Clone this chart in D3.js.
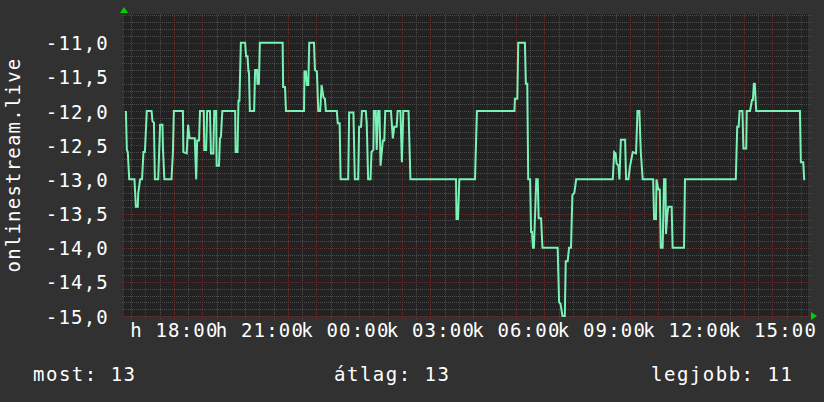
<!DOCTYPE html>
<html><head><meta charset="utf-8">
<script src="https://cdn.jsdelivr.net/npm/d3@7"></script>
<style>body{margin:0;background:#313131;} svg{display:block}</style>
</head><body>
<svg id="c" width="824" height="402"></svg>
<script>
// ---------- data ----------
const startTime = new Date(2024, 0, 15, 16, 15);   // hétfő 16:15
const endTime   = new Date(2024, 0, 16, 16, 15);   // kedd 16:15
const minutesFromStart = [
  4,6,8,11,22,25,29,30,34,38,41,44,48,58,60,63,65,72,76,81,82,85,100,103,105,124,125,132,135,138,149,152,154,158,160,168,169,173,175,181,183,188,190,194,195,200,202,204,207,234,235,239,241,243,246,255,257,260,262,263,265,274,276,280,281,284,286,
  334,335,339,341,379,380,383,385,388,390,400,402,406,407,409,413,416,420,423,425,448,450,454,456,472,474,483,486,493,495,499,501,509,511,514,519,521,525,526,530,532,535,538,540,545,548,550,562,566,569,574,576,582,585,588,599,603,
  699,700,703,706,739,743,822,823,828,830,844,846,849,851,855,857,859,861,863,865,868,871,873,878,881,913,916,919,923,928,930,934,937,941,944,948,952,
  1029,1032,1035,1037,1041,1043,1046,1055,1057,1062,1065,1071,1078,1081,1085,1088,1092,1114,1116,1120,1121,1125,1128,1130,1134,1137,1140,1141,1144,1146,1153,1155,1179,1181,
  1288,1291,1294,1296,1302,1304,1310,1311,1318,1322,1324,1326,1328,1331,1423,1425,1430,1432,1434
];
const values = [
  -12.0,-12.57,-12.6,-13.0,-13.0,-13.4,-13.4,-13.2,-13.0,-13.0,-12.6,-12.6,-12.0,-12.0,-12.15,-12.17,-13.0,-13.0,-12.2,-12.2,-12.55,-13.0,-13.0,-12.6,-12.0,-12.0,-12.6,-12.62,-12.2,-12.4,-12.4,-13.0,-12.43,-12.43,-12.0,-12.0,-12.57,-12.57,-12.0,-12.0,-12.62,-12.62,-12.0,-12.0,-12.8,-12.8,-12.4,-12.38,-12.0,-12.0,-12.6,-12.6,-11.85,-11.85,-11.0,-11.0,-11.2,-11.2,-11.42,-11.42,-12.0,-12.0,-11.4,-11.4,-11.6,-11.6,-11.0,
  -11.0,-11.65,-11.65,-12.0,-12.0,-11.42,-11.42,-11.62,-11.62,-11.0,-11.0,-11.4,-11.42,-11.6,-12.0,-12.0,-11.62,-11.8,-11.82,-12.0,-12.0,-12.18,-12.18,-13.0,-13.0,-12.02,-12.02,-13.0,-13.0,-12.23,-12.23,-12.0,-12.0,-12.18,-13.0,-13.0,-12.6,-12.57,-12.0,-12.0,-12.57,-12.0,-12.0,-12.8,-12.43,-12.43,-12.0,-12.0,-12.4,-12.23,-12.23,-12.0,-12.0,-12.75,-12.0,-12.0,-13.0,
  -13.0,-13.58,-13.58,-13.0,-13.0,-12.0,-12.0,-11.82,-11.82,-11.0,-11.0,-11.6,-11.6,-13.0,-13.0,-13.77,-13.77,-14.0,-14.0,-13.6,-13.0,-13.0,-13.57,-13.57,-14.0,-14.0,-14.8,-14.82,-15.0,-15.0,-14.2,-14.2,-14.0,-14.0,-13.23,-13.2,-13.0,
  -13.0,-12.6,-12.62,-12.77,-12.8,-13.0,-12.42,-12.42,-13.0,-13.0,-12.82,-12.6,-12.62,-12.0,-12.0,-12.6,-13.0,-13.0,-13.58,-13.58,-13.0,-13.15,-13.15,-14.0,-14.0,-13.0,-13.0,-13.8,-13.5,-13.4,-13.4,-14.0,-14.0,-13.0,
  -13.0,-12.23,-12.23,-12.0,-12.0,-12.55,-12.55,-12.0,-12.0,-11.84,-11.84,-11.6,-11.6,-12.0,-12.0,-12.75,-12.75,-13.0,-13.0
];
const yTickValues = [-11.0,-11.5,-12.0,-12.5,-13.0,-13.5,-14.0,-14.5,-15.0];
const yTickLabels = ["-11,0","-11,5","-12,0","-12,5","-13,0","-13,5","-14,0","-14,5","-15,0"];
const xTickTimes = ["2024-01-15T18:00","2024-01-15T21:00","2024-01-16T00:00","2024-01-16T03:00","2024-01-16T06:00","2024-01-16T09:00","2024-01-16T12:00","2024-01-16T15:00"];
const xTickLabels = ["h 18:00","h 21:00","k 00:00","k 03:00","k 06:00","k 09:00","k 12:00","k 15:00"];
const yAxisTitle = "onlinestream.live";
const legendLabels = ["most: 13","átlag: 13","legjobb: 11"];
const yDomain = [-15, -10.58];

// ---------- layout ----------
const L = 124, R = 808, T = 14, B = 316;
const FONT = "DejaVu Sans Mono";
const FS = 19, LS = "1.2px";
const svg = d3.select("#c");
svg.append("rect").attr("width",824).attr("height",402).attr("fill","#313131");
svg.append("rect").attr("x",L).attr("y",T).attr("width",R-L).attr("height",B-T).attr("fill","#222222");

const x = d3.scaleTime().domain([startTime,endTime]).range([L,R]);
const y = d3.scaleLinear().domain(yDomain).range([B,T]);

// grid
const minorY = d3.range(-150, -105, 1).map(v=>v/10).filter(v=>Math.round(v*10)%5!==0);
const majorY = d3.range(-150, -105, 5).map(v=>v/10);
const minorX = d3.timeMinute.every(30).range(startTime,endTime).filter(d=>d.getMinutes()===30);
const majorX = d3.timeHour.every(1).range(startTime,endTime);

const g = svg.append("g").attr("shape-rendering","crispEdges");
function hl(vals, col){
  g.append("g").selectAll("line").data(vals).join("line")
    .attr("x1",L-2).attr("x2",R+3)
    .attr("y1",d=>Math.round(y(d))+0.5).attr("y2",d=>Math.round(y(d))+0.5)
    .attr("stroke",col).attr("stroke-dasharray","1,1");
}
function vl(vals, col){
  g.append("g").selectAll("line").data(vals).join("line")
    .attr("y1",T).attr("y2",B+3)
    .attr("x1",d=>Math.round(x(d))+0.5).attr("x2",d=>Math.round(x(d))+0.5)
    .attr("stroke",col).attr("stroke-dasharray","1,1");
}
hl(minorY,"#4c4c4c");
vl(minorX,"#4c4c4c");
hl(majorY,"#5e3030");
vl(majorX,"#5e3030");

// axes text
const yAxis = d3.axisLeft(y).tickValues(yTickValues).tickFormat((d,i)=>yTickLabels[i]).tickSize(0).tickPadding(0);
const ya = svg.append("g").attr("transform",`translate(${L-15},0)`).call(yAxis);
ya.select(".domain").remove();
ya.selectAll("text").attr("font-family",FONT).attr("font-size",FS).attr("letter-spacing",LS).attr("fill","#ffffff").attr("dy","0.37em");

const xAxis = d3.axisBottom(x).tickValues(xTickTimes.map(s=>new Date(s))).tickFormat((d,i)=>xTickLabels[i]).tickSize(0).tickPadding(0);
const xa = svg.append("g").attr("transform",`translate(0,${B+6})`).call(xAxis);
xa.select(".domain").remove();
xa.selectAll("text").attr("font-family",FONT).attr("font-size",FS).attr("letter-spacing",LS).attr("fill","#ffffff").attr("dy","0.8em");

svg.append("text").attr("transform",`translate(20,165) rotate(-90)`).attr("text-anchor","middle")
  .attr("font-family",FONT).attr("font-size",FS).attr("letter-spacing",LS).attr("fill","#ffffff").text(yAxisTitle);

// arrows
svg.append("path").attr("d",d3.line()([[L-4,T-1],[L+4,T-1],[L,T-7]])+"Z").attr("fill","#00d000");
svg.append("path").attr("d",d3.line()([[R+3,B-4],[R+3,B+4],[R+9,B]])+"Z").attr("fill","#00d000");

// line
const data = minutesFromStart.map((m,i)=>({t:d3.timeMinute.offset(startTime,m), v:values[i]}));
svg.append("path").datum(data)
  .attr("d",d3.line().x(d=>x(d.t)).y(d=>y(d.v)))
  .attr("fill","none").attr("stroke","#7af2b6").attr("stroke-width",2).attr("stroke-linejoin","miter");

// legend
const legX = [33, 334, 651];
svg.append("g").selectAll("text").data(legendLabels).join("text")
  .attr("x",(d,i)=>legX[i]).attr("y",381)
  .attr("font-family",FONT).attr("font-size",FS).attr("letter-spacing","1.5px").attr("fill","#ffffff").text(d=>d);
</script>
</body></html>
